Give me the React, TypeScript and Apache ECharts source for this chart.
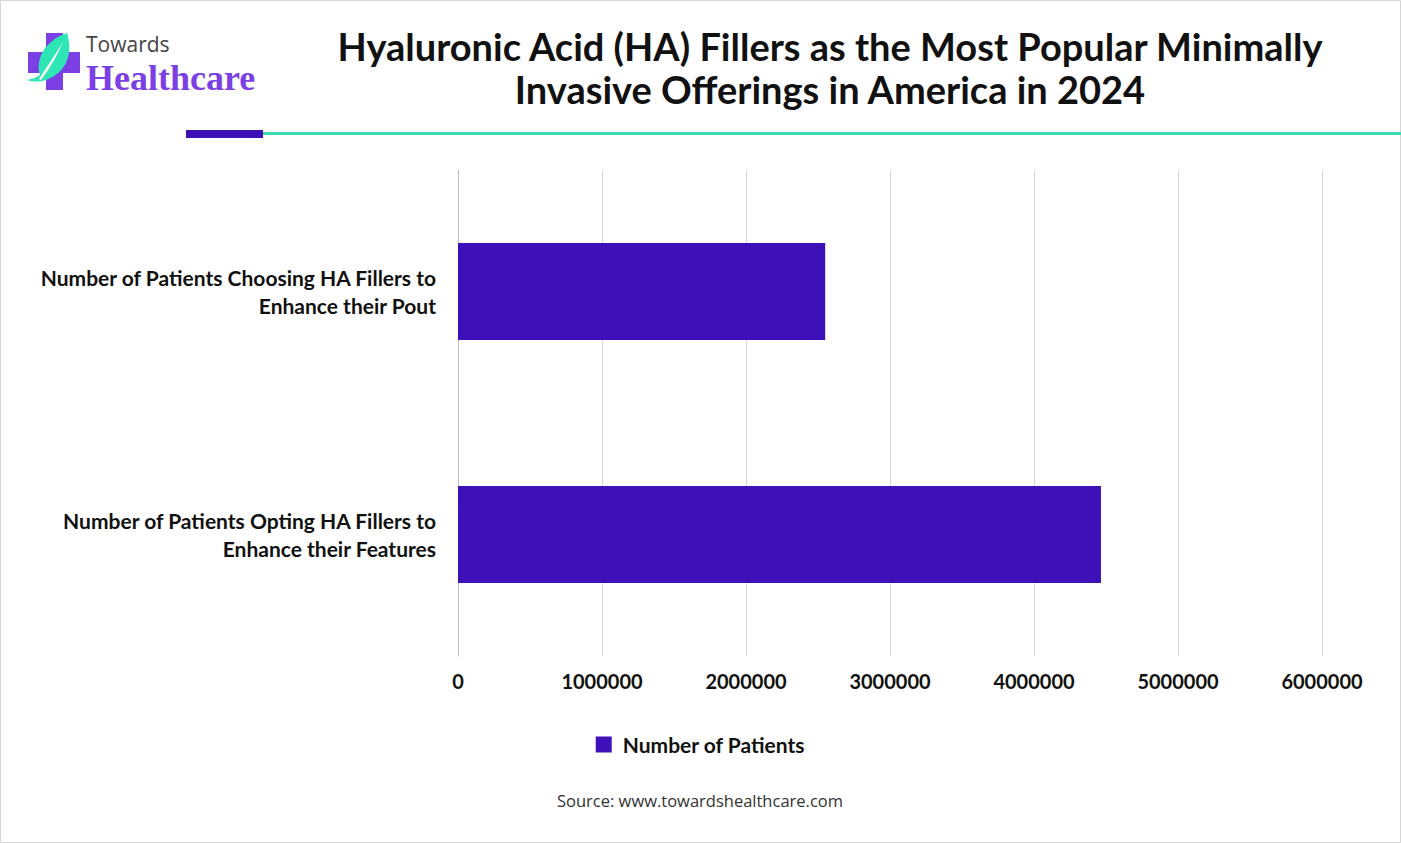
import React, { useEffect, useRef } from "react";
import * as echarts from "echarts";

const categories = [
  "Number of Patients Choosing HA Fillers to\nEnhance their Pout",
  "Number of Patients Opting HA Fillers to\nEnhance their Features",
];
const patients = [2550000, 4465000];
const seriesName = "Number of Patients";
const titleLines = [
  "Hyaluronic Acid (HA) Fillers as the Most Popular Minimally",
  "Invasive Offerings in America in 2024",
];
const sourceText = "Source: www.towardshealthcare.com";

const leafPath =
  "M67 33 C73 52 68 72 46 80 C39 82 33 82 27 80 C33 79 37 77 40 75 C35 58 46 40 67 33 Z";
const stemPath = "M39 79 C46 68 55 55 63 42 C57 56 50 68 41 80 Z";

echarts.graphic.registerShape("leafShape", echarts.graphic.extendPath(leafPath, {}) as any);
echarts.graphic.registerShape("stemShape", echarts.graphic.extendPath(stemPath, {}) as any);

export default function App() {
  const ref = useRef<HTMLDivElement>(null);
  useEffect(() => {
    document.body.style.margin = "0";
    const chart = echarts.init(ref.current!, undefined, { renderer: "svg" });
    const font = "Lato, 'Open Sans', sans-serif";
    chart.setOption({
      animation: false,
      backgroundColor: "#ffffff",
      grid: { left: 458, right: 79, top: 170, bottom: 187, containLabel: false },
      xAxis: {
        type: "value",
        min: 0,
        max: 6000000,
        interval: 1000000,
        axisLine: { show: false },
        axisTick: { show: false },
        splitLine: { show: true, lineStyle: { color: "#d9d9d9", width: 1 } },
        axisLabel: {
          color: "#111",
          fontFamily: font,
          fontWeight: "bold",
          fontSize: 20,
          margin: 15,
          formatter: (v: number) => String(v),
        },
      },
      yAxis: {
        type: "category",
        inverse: true,
        data: categories,
        axisLine: { show: true, lineStyle: { color: "#bfbfbf", width: 1 } },
        axisTick: { show: false },
        axisLabel: {
          color: "#111",
          fontFamily: font,
          fontWeight: "bold",
          fontSize: 21,
          lineHeight: 28,
          margin: 22,
          align: "right",
          padding: [0, 0, 7, 0],
        },
      },
      legend: {
        show: true,
        data: [seriesName],
        left: "center",
        top: 729,
        icon: "rect",
        itemWidth: 16,
        itemHeight: 16,
        itemGap: 10,
        textStyle: { color: "#111", fontFamily: font, fontWeight: "bold", fontSize: 21, padding: [0, 0, 0, 6] },
      },
      series: [
        {
          type: "bar",
          name: seriesName,
          data: patients,
          barWidth: 97,
          itemStyle: { color: "#3d10b8" },
        },
      ],
      graphic: [
        {
          type: "rect",
          shape: { x: 0.5, y: 0.5, width: 1400, height: 842 },
          style: { fill: "none", stroke: "#d6d6d6", lineWidth: 1 },
          silent: true,
        },
        { type: "rect", shape: { x: 46, y: 33, width: 17, height: 57 }, style: { fill: "#7b3fe4" } },
        { type: "rect", shape: { x: 28, y: 52, width: 52, height: 21 }, style: { fill: "#7b3fe4" } },
        { type: "leafShape", x: 0, y: 0, style: { fill: "#2ee6b5" } },
        { type: "stemShape", x: 0, y: 0, style: { fill: "#ffffff" } },
        {
          type: "text",
          x: 86,
          y: 44,
          style: {
            text: "Towards",
            font: "400 21px 'Open Sans', sans-serif",
            fill: "#444",
            textVerticalAlign: "middle",
          },
        },
        {
          type: "text",
          x: 86,
          y: 78,
          style: {
            text: "Healthcare",
            font: "bold 36px 'Liberation Serif', serif",
            fill: "#7b3fe4",
            textVerticalAlign: "middle",
          },
        },
        {
          type: "text",
          x: 830,
          y: 46,
          style: {
            text: titleLines[0],
            font: `bold 38px ${font}`,
            fill: "#111",
            textAlign: "center",
            textVerticalAlign: "middle",
          },
        },
        {
          type: "text",
          x: 830,
          y: 89,
          style: {
            text: titleLines[1],
            font: `bold 38px ${font}`,
            fill: "#111",
            textAlign: "center",
            textVerticalAlign: "middle",
          },
        },
        { type: "rect", shape: { x: 263, y: 132, width: 1138, height: 3 }, style: { fill: "#3ddbb0" } },
        { type: "rect", shape: { x: 186, y: 130, width: 77, height: 8 }, style: { fill: "#3d10b8" } },
        {
          type: "text",
          x: 700,
          y: 800,
          style: {
            text: sourceText,
            font: "400 16.5px 'Open Sans', sans-serif",
            fill: "#333",
            textAlign: "center",
            textVerticalAlign: "middle",
          },
        },
      ],
    });
    return () => chart.dispose();
  }, []);
  return <div ref={ref} style={{ width: 1401, height: 843 }} />;
}
